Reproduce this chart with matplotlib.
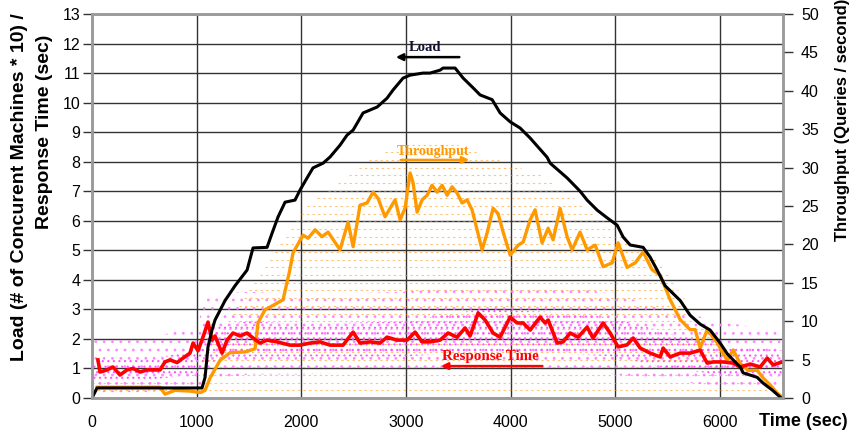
import matplotlib
matplotlib.use("Agg")
import matplotlib.pyplot as plt

plt.rcParams['font.family'] = ['Liberation Sans', 'DejaVu Sans']
plt.rcParams['hatch.linewidth'] = 0.8

# ---------------- data ----------------
load_t = [0, 48, 1051, 1080, 1108, 1146, 1175, 1271, 1366, 1481, 1538, 1672, 1720, 1777,
          1844, 1939, 1987, 2054, 2111, 2207, 2274, 2369, 2436, 2494, 2532, 2589, 2723,
          2818, 2876, 2971, 3038, 3162, 3229, 3325, 3353, 3468, 3545, 3640, 3707, 3822,
          3898, 3994, 4089, 4185, 4347, 4376, 4538, 4662, 4729, 4825, 4920, 5016, 5073,
          5140, 5264, 5331, 5398, 5474, 5618, 5713, 5809, 5904, 6000, 6067, 6124, 6191,
          6220, 6353, 6411, 6497, 6573]
load_v = [0.0, 0.34, 0.34, 0.7, 1.73, 2.3, 2.64, 3.3, 3.8, 4.33, 5.08, 5.1, 5.58, 6.13,
          6.63, 6.7, 7.04, 7.45, 7.79, 7.95, 8.16, 8.56, 8.9, 9.07, 9.3, 9.65, 9.85,
          10.15, 10.43, 10.83, 10.93, 11.0, 11.0, 11.1, 11.17, 11.17, 10.83, 10.5, 10.26, 10.1,
          9.65, 9.35, 9.14, 8.8, 8.15, 7.95, 7.45, 7.0, 6.7, 6.36, 6.1, 5.85, 5.45,
          5.18, 5.1, 4.77, 4.33, 3.8, 3.3, 2.8, 2.5, 2.3, 1.86, 1.5, 1.29, 1.05,
          0.85, 0.7, 0.5, 0.27, 0.03]

tput_t = [48, 650, 697, 793, 936, 1032, 1080, 1127, 1223, 1318, 1462, 1557, 1586,
          1653, 1748, 1825, 1890, 1920, 2016, 2064, 2131, 2197, 2255, 2369, 2446, 2494,
          2560, 2627, 2685, 2732, 2799, 2847, 2895, 2943, 2990, 3038, 3067, 3105, 3153,
          3201, 3248, 3296, 3344, 3392, 3439, 3487, 3535, 3583, 3630, 3678, 3726, 3774,
          3831, 3879, 3927, 3994, 4070, 4118, 4185, 4232, 4299, 4357, 4404, 4471, 4538,
          4586, 4662, 4729, 4806, 4882, 4968, 5025, 5111, 5188, 5264, 5350, 5427, 5522,
          5618, 5713, 5761, 5809, 5876, 5971, 6067, 6124, 6191, 6267, 6353, 6411, 6478,
          6544, 6602]
tput_q = [1.4, 1.4, 0.5, 1.0, 0.9, 0.7, 1.0, 2.6, 4.9, 5.9, 6.0, 6.4, 9.8,
          11.5, 12.2, 12.8, 16.7, 18.9, 21.2, 20.8, 21.9, 21.0, 21.6, 19.3, 22.9, 19.7,
          25.1, 25.4, 26.8, 26.0, 23.6, 24.7, 25.8, 23.2, 24.7, 29.3, 28.0, 24.2, 25.8,
          26.4, 27.7, 26.8, 27.7, 26.4, 27.5, 26.7, 25.4, 25.8, 24.5, 21.9, 19.3, 21.5,
          24.7, 24.0, 21.6, 18.6, 19.9, 20.3, 23.2, 24.5, 20.2, 22.1, 20.6, 24.7, 21.0,
          19.3, 21.6, 19.3, 19.9, 17.1, 17.6, 20.2, 17.0, 17.6, 19.0, 16.7, 16.0, 12.8,
          10.2, 8.9, 8.9, 6.5, 8.9, 7.2, 4.9, 6.25, 4.5, 3.6, 3.6, 2.6, 1.7,
          0.65, 0.0]

resp_t = [57, 76, 143, 200, 267, 334, 392, 459, 525, 650,
          697, 745, 812, 869, 936, 965, 1013, 1060, 1108, 1146,
          1175, 1242, 1290, 1347, 1414, 1481, 1538, 1605, 1672, 1768,
          1891, 1987, 2083, 2178, 2274, 2398, 2494, 2560, 2656, 2751,
          2818, 2914, 3009, 3086, 3153, 3229, 3325, 3401, 3487, 3564,
          3611, 3688, 3755, 3831, 3898, 3994, 4060, 4118, 4185, 4280,
          4328, 4357, 4443, 4500, 4567, 4643, 4729, 4786, 4882, 4949,
          5025, 5111, 5169, 5236, 5331, 5427, 5455, 5522, 5618, 5713,
          5809, 5876, 5933, 6028, 6124, 6191, 6287, 6382, 6449, 6506, 6592]
resp_v = [1.29, 0.88, 0.95, 1.05, 0.78, 0.95, 1.0, 0.88, 0.95, 0.95,
          1.22, 1.29, 1.2, 1.35, 1.52, 1.86, 1.6, 2.06, 2.57, 1.96,
          2.1, 1.52, 1.96, 2.2, 2.1, 2.2, 2.03, 1.86, 1.96, 1.9,
          1.79, 1.79, 1.86, 1.9, 1.79, 1.79, 2.23, 1.86, 1.9, 1.86,
          2.06, 1.96, 1.96, 2.23, 1.9, 1.9, 1.96, 2.2, 2.06, 2.37,
          2.1, 2.88, 2.64, 2.2, 2.06, 2.74, 2.54, 2.54, 2.3, 2.74,
          2.54, 2.64, 1.86, 1.9, 2.2, 2.06, 2.4, 2.03, 2.54, 2.2,
          1.73, 1.8, 2.03, 1.69, 1.52, 1.39, 1.69, 1.39, 1.52, 1.52,
          1.62, 1.18, 1.22, 1.22, 1.18, 1.05, 1.15, 1.05, 1.35, 1.12, 1.22]

# sample clouds (envelopes)
cloud_t = [0, 500, 1000, 1100, 1500, 2000, 3000, 3700, 4500, 5000, 5500, 6000, 6600]
dense_lo = [0.6, 0.6, 0.8, 1.2, 1.4, 1.4, 1.4, 1.6, 1.5, 1.4, 1.0, 0.8, 0.7]
dense_hi = [1.3, 1.3, 1.6, 2.4, 2.6, 2.5, 2.6, 3.0, 2.9, 2.7, 2.2, 1.8, 1.6]
sparse_lo = [0.2, 0.2, 0.3, 0.6, 0.8, 0.8, 0.9, 1.0, 1.0, 0.8, 0.6, 0.4, 0.3]
sparse_hi = [2.0, 2.0, 2.4, 3.5, 3.6, 3.5, 3.6, 3.8, 3.8, 3.5, 3.0, 2.6, 2.2]

streak_q = list(range(1, 34))
streak_start = [0, 0, 900, 1000, 1050, 1100, 1150, 1200, 1250, 1300, 1350, 1400, 1450,
                1500, 1550, 1600, 1650, 1700, 1750, 1800, 1850, 1900, 1950, 2000, 2050,
                2150, 2250, 2350, 2450, 2550, 2650, 2800, 2950]
streak_end = [6500, 6400, 6300, 6250, 6200, 6100, 6000, 5900, 5850, 5800, 5750, 5700,
              5650, 5600, 5550, 5500, 5450, 5400, 5300, 5200, 5100, 5000, 4900, 4800,
              4700, 4600, 4500, 4400, 4300, 4100, 3900, 3700, 3500]

x_ticks = [0, 1000, 2000, 3000, 4000, 5000, 6000]
left_ticks = list(range(0, 14))
right_ticks = list(range(0, 55, 5))

# ---------------- figure ----------------
fig = plt.figure(figsize=(8.57, 4.33), dpi=100)
ax1 = fig.add_axes([92/857, 35/433, 691/857, 384/433])
ax2 = ax1.twinx()

ax1.set_xlim(0, 6600)
ax1.set_ylim(0, 13)
ax2.set_ylim(0, 50)

# clouds
ax1.fill_between(cloud_t, sparse_lo, sparse_hi, facecolor='none', edgecolor='#ff88ff',
                 hatch='..', linewidth=0, zorder=1)
ax1.fill_between(cloud_t, dense_lo, dense_hi, facecolor='none', edgecolor='#ff55ff',
                 hatch='...', linewidth=0, zorder=1)
# throughput streaks
ax1.hlines(streak_q, streak_start, streak_end, colors='#ff9a1a', linestyles=(0, (2, 3)),
           linewidth=0.8, alpha=0.6, transform=ax2.transData, zorder=1.5)

ax1.plot(load_t, load_v, color='black', lw=2.2, zorder=3)
ax1.plot(tput_t, tput_q, color='#ff9900', lw=2.4, transform=ax2.transData, zorder=2.5)
ax1.plot(resp_t, resp_v, color='#ff0000', lw=2.6, zorder=2.8)

# grid
ax1.set_xticks(x_ticks)
ax1.set_yticks(left_ticks)
ax2.set_yticks(right_ticks)
ax1.grid(True, color='#333333', lw=1.0)
ax1.set_axisbelow(True)

for sp in ax1.spines.values():
    sp.set_color('#9a9a9a'); sp.set_linewidth(1.8)
for sp in ax2.spines.values():
    sp.set_color('#9a9a9a'); sp.set_linewidth(1.8)

ax1.tick_params(axis='y', length=6.5, width=1.0, color='#333333', pad=2, labelsize=11.5)
ax2.tick_params(axis='y', length=7, width=1.0, color='#333333', pad=6, labelsize=11.5)
ax1.tick_params(axis='x', length=0, pad=12, labelsize=11.5)

fig.text(20/857, 1 - 187/433, 'Load (# of Concurent Machines * 10) /', rotation=90,
         ha='center', va='center', fontsize=14, fontweight='bold')
fig.text(45/857, 1 - 132/433, 'Response Time (sec)', rotation=90,
         ha='center', va='center', fontsize=14, fontweight='bold')
fig.text(843/857, 1 - 120/433, 'Throughput (Queries / second)', rotation=90,
         ha='center', va='center', fontsize=12, fontweight='bold')
fig.text(803/857, 1 - 422/433, 'Time (sec)', ha='center', va='center',
         fontsize=13, fontweight='bold')

# annotations
serif = ['Liberation Serif', 'DejaVu Serif']
ax1.text(3181, 11.88, 'Load', ha='center', va='center', fontsize=10.5, fontweight='bold',
         family=serif, color='#111133', zorder=5)
ax1.annotate('', xy=(2876, 11.54), xytext=(3535, 11.54),
             arrowprops=dict(arrowstyle='-|>', color='black', lw=1.8, mutation_scale=10))
ax1.text(3258, 8.33, 'Throughput', ha='center', va='center', fontsize=10, fontweight='bold',
         family=serif, color='#ff9900', zorder=5)
ax1.annotate('', xy=(3630, 8.06), xytext=(2923, 8.06),
             arrowprops=dict(arrowstyle='-|>', color='#ff9900', lw=1.8, mutation_scale=10))
ax1.text(3802, 1.42, 'Response Time', ha='center', va='center', fontsize=10.8, fontweight='bold',
         family=serif, color='#ff0000', zorder=5)
ax1.annotate('', xy=(3306, 1.08), xytext=(4328, 1.08),
             arrowprops=dict(arrowstyle='-|>', color='#ff0000', lw=1.8, mutation_scale=10))

fig.savefig('out.png', dpi=100)
